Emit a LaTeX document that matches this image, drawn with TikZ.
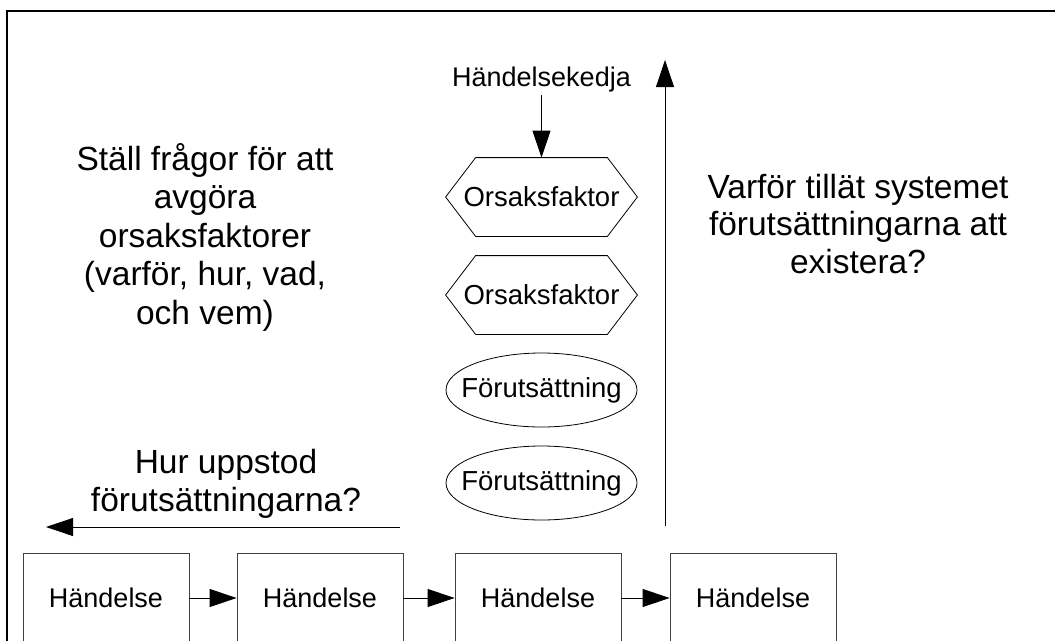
\documentclass[tikz,border=0pt]{standalone}
\usepackage{fontspec}
\setmainfont{Liberation Sans}
\usetikzlibrary{shapes, arrows.meta}

\begin{document}
\begin{tikzpicture}[
        x=1pt, y=-1pt,
        line width=0.8pt,
        small/.style={font=\fontsize{27}{31}\selectfont},
        shapetext/.style={font=\fontsize{27.5}{31}\selectfont},
        big/.style={align=center, font=\fontsize{33.5}{37.5}\selectfont},
        event/.style={rectangle, draw=black!75, minimum width=166pt, minimum height=90pt, inner sep=0pt, small},
        cause/.style={rectangle, minimum width=131pt, minimum height=78pt, inner xsep=-16pt, inner ysep=0pt, shapetext},
        cond/.style={ellipse, draw, minimum width=191pt, minimum height=74pt, inner xsep=-14pt, inner ysep=11.5pt, shapetext},
        tip/.style={-{Triangle[length=27pt, width=18pt]}}
    ]
        \useasboundingbox (0,0) rectangle (1055,640);
        \clip (0,0) rectangle (1055,640);

        % Frame
        \draw[line width=2.5pt] (7,660) -- (7,11) -- (1070,11);

        % Chain of events
        \node[small, inner sep=2pt] (kedja) at (541.5,80) {Händelsekedja};

        % Causal factors
        \node[cause] (h1) at (541.5,197) {Orsaksfaktor};
        \node[cause] (h2) at (541.5,295) {Orsaksfaktor};
        \draw (h1.north west) -- (h1.north east) -- ([xshift=30pt]h1.east) -- (h1.south east)
            -- (h1.south west) -- ([xshift=-30pt]h1.west) -- cycle;
        \draw (h2.north west) -- (h2.north east) -- ([xshift=30pt]h2.east) -- (h2.south east)
            -- (h2.south west) -- ([xshift=-30pt]h2.west) -- cycle;
        \draw[tip] (kedja) -- (h1);

        % Preconditions
        \node[cond] (e1) at (541.5,390) {Förutsättning};
        \node[cond] (e2) at (541.5,483) {Förutsättning};

        % Events
        \node[event] (b1) at (106,598) {Händelse};
        \node[event] (b2) at (320,598) {Händelse};
        \node[event] (b3) at (538,598) {Händelse};
        \node[event] (b4) at (753,598) {Händelse};
        \draw[tip] (b1) -- (b2);
        \draw[tip] (b2) -- (b3);
        \draw[tip] (b3) -- (b4);

        % Questions
        \node[big, font=\fontsize{33.5}{38.5}\selectfont] (fragor) at (205,237) {Ställ frågor för att\\avgöra\\orsaksfaktorer\\(varför, hur, vad,\\och vem)};
        \node[big] (varfor) at (858,224) {Varför tillät systemet\\förutsättningarna att\\existera?};
        \node[big] (hur) at (226,484) {Hur uppstod\\förutsättningarna?};

        % Direction arrows
        \coordinate (upA) at (665,526);
        \coordinate (upB) at (665,60);
        \draw[tip] (upA) -- (upB);
        \coordinate (leftA) at (400,527);
        \coordinate (leftB) at (46,527);
        \draw[tip] (leftA) -- (leftB);
    \end{tikzpicture}
\end{document}
